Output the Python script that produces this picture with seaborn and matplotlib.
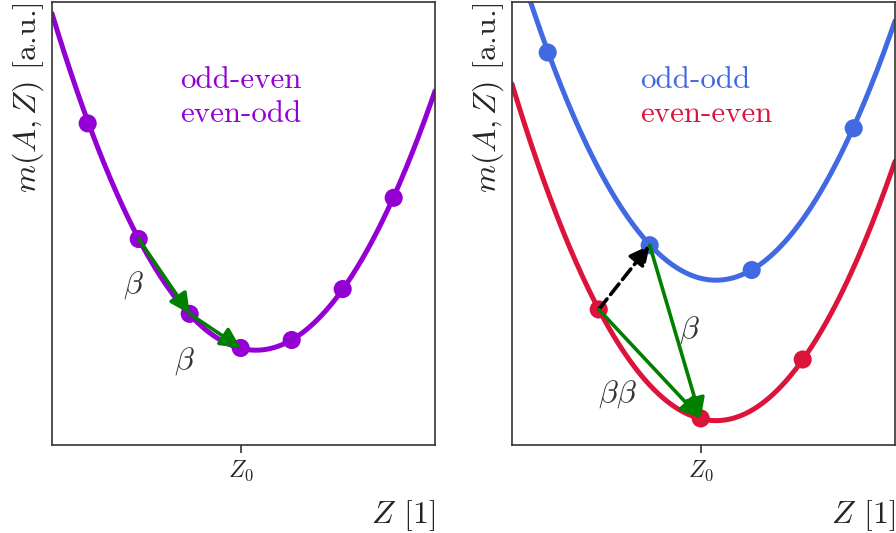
import numpy as np
import pandas as pd
import matplotlib
matplotlib.use('Agg')
import matplotlib.pyplot as plt
import seaborn as sns

# Positions of the nuclei (Z - Z0) and their masses [a.u.]
z_left = [-3, -2, -1, 0, 1, 2, 3]
m_left = [0.726, 0.465, 0.296, 0.219, 0.237, 0.352, 0.558]

z_oddodd = [-3, -1, 1, 3]
m_oddodd = [0.886, 0.451, 0.395, 0.715]

z_eveneven = [-2, 0, 2]
m_eveneven = [0.306, 0.060, 0.193]

# Mass parabolas: curvature, vertex position and vertex mass
curv = 0.0475
z_vertex = 0.30
m_vertex_left = 0.214
m_vertex_oddodd = 0.372
m_vertex_eveneven = 0.055

purple = '#9400D3'
blue = '#4169E1'
red = '#DC143C'
green = 'green'

sns.set_style('ticks')
plt.rcParams['font.family'] = ['cmr10', 'DejaVu Serif']
plt.rcParams['mathtext.fontset'] = 'cm'
plt.rcParams['axes.unicode_minus'] = False
plt.rcParams['axes.edgecolor'] = '#333333'

fig = plt.figure(figsize=(8.96, 5.33), dpi=100)
ax1 = fig.add_axes([52 / 896, 88 / 533, 383 / 896, 443 / 533])
ax2 = fig.add_axes([512 / 896, 88 / 533, 383 / 896, 443 / 533])

xlim = (-3.70, 3.81)
zz = np.linspace(xlim[0], xlim[1], 300)


def parabola(m0):
    return pd.DataFrame({'Z': zz, 'm': curv * (zz - z_vertex) ** 2 + m0})


def arrow(ax, start, end, color, ls='-'):
    ax.annotate('', xy=end, xytext=start,
                arrowprops=dict(arrowstyle='-|>,head_length=0.5,head_width=0.25',
                                color=color, lw=2.6, ls=ls,
                                shrinkA=0, shrinkB=0, mutation_scale=24),
                zorder=5)


# left panel
sns.lineplot(data=parabola(m_vertex_left), x='Z', y='m', ax=ax1, color=purple, lw=3.6)
sns.scatterplot(x=z_left, y=m_left, ax=ax1, color=purple, s=170, edgecolor='none', zorder=3)
arrow(ax1, (z_left[1], m_left[1]), (z_left[2], m_left[2]), green)
arrow(ax1, (z_left[2], m_left[2]), (z_left[3], m_left[3]), green)
ax1.text(-2.1, 0.36, r'$\beta$', fontsize=23, color='#333333', ha='center', va='center')
ax1.text(-1.1, 0.19, r'$\beta$', fontsize=23, color='#333333', ha='center', va='center')
ax1.text(-1.18, 0.805, 'odd-even', fontsize=22.3, color=purple, va='baseline')
ax1.text(-1.18, 0.728, 'even-odd', fontsize=22.3, color=purple, va='baseline')

# right panel
sns.lineplot(data=parabola(m_vertex_oddodd), x='Z', y='m', ax=ax2, color=blue, lw=3.6)
sns.lineplot(data=parabola(m_vertex_eveneven), x='Z', y='m', ax=ax2, color=red, lw=3.6)
sns.scatterplot(x=z_oddodd, y=m_oddodd, ax=ax2, color=blue, s=170, edgecolor='none', zorder=3)
sns.scatterplot(x=z_eveneven, y=m_eveneven, ax=ax2, color=red, s=170, edgecolor='none', zorder=3)
arrow(ax2, (z_eveneven[0], m_eveneven[0]), (z_oddodd[1], m_oddodd[1]), 'black', ls='--')
arrow(ax2, (z_eveneven[0], m_eveneven[0]), (z_eveneven[1], m_eveneven[1]), green)
arrow(ax2, (z_oddodd[1], m_oddodd[1]), (z_eveneven[1], m_eveneven[1]), green)
ax2.text(-0.22, 0.26, r'$\beta$', fontsize=23, color='#333333', ha='center', va='center')
ax2.text(-1.63, 0.115, r'$\beta\beta$', fontsize=23, color='#333333', ha='center', va='center')
ax2.text(-1.19, 0.805, 'odd-odd', fontsize=22.3, color=blue, va='baseline')
ax2.text(-1.19, 0.728, 'even-even', fontsize=22.3, color=red, va='baseline')

for ax in (ax1, ax2):
    ax.set_xlim(xlim)
    ax.set_ylim(0, 1)
    ax.set_xticks([0])
    ax.set_xticklabels([r'$Z_0$'], fontsize=17)
    ax.set_yticks([])
    ax.tick_params(axis='x', length=6, width=1.2, color='#333333')
    ax.set_xlabel(r'$Z$ [1]', fontsize=23, loc='right', labelpad=11)
    ax.set_ylabel(r'$m(A,Z)$ [a.u.]', fontsize=23, loc='top', labelpad=4)
    for sp in ax.spines.values():
        sp.set_linewidth(1.2)

fig.savefig('out.png', dpi=100)
